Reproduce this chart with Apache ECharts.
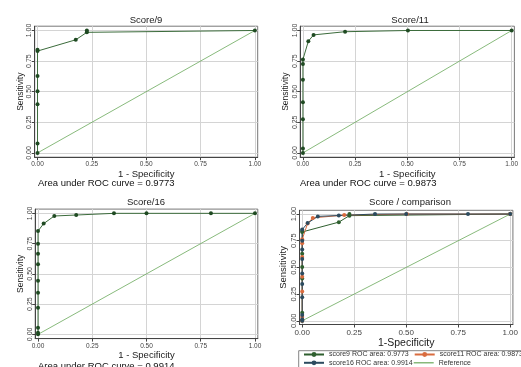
<!DOCTYPE html>
<html>
<head>
<meta charset="utf-8">
<script src="https://cdn.jsdelivr.net/npm/echarts@6/dist/echarts.min.js"></script>
<style>
  html, body { margin: 0; padding: 0; background: #fff; }
  #chart { width: 521px; height: 367px; }
</style>
</head>
<body>
<div id="chart"></div>
<script>
'use strict';

// ROC points (1 - specificity, sensitivity)
var score9X = [0, 0, 0, 0, 0, 0, 0, 0.176, 0.227, 0.227, 1];
var score9Y = [0, 0.076, 0.397, 0.503, 0.628, 0.832, 0.842, 0.924, 0.985, 1, 1];

var score11X = [0, 0, 0, 0, 0, 0, 0, 0.026, 0.051, 0.202, 0.503, 1];
var score11Y = [0, 0.036, 0.275, 0.413, 0.598, 0.727, 0.763, 0.912, 0.964, 0.99, 1, 1];

var score16X = [0, 0, 0, 0, 0, 0, 0, 0, 0, 0, 0.026, 0.075, 0.176, 0.35, 0.5, 0.797, 1];
var score16Y = [0, 0.014, 0.055, 0.22, 0.344, 0.444, 0.579, 0.667, 0.749, 0.854, 0.915, 0.978, 0.986, 1, 1, 1, 1];

var refX = [0, 1];
var refY = [0, 1];

var tickValues = [0, 0.25, 0.5, 0.75, 1];
var panelTitles = ['Score/9', 'Score/11', 'Score/16', 'Score / comparison'];
var aucLabels = ['Area under ROC curve = 0.9773', 'Area under ROC curve = 0.9873', 'Area under ROC curve = 0.9914'];
var legendNames = ['score9 ROC area: 0.9773', 'score11 ROC area: 0.9873', 'score16 ROC area: 0.9914', 'Reference'];

var FONT = 'Liberation Sans';
var rocColor = '#3b6b3b';
var rocMarker = '#1f4a22';
var refColor = '#6aa85a';
var col9 = '#2f5f2f', col11 = '#d96c3f', col16 = '#2c4b5f';

function pairs(xs, ys) {
  return xs.map(function(x, i) { return [x, ys[i]]; });
}

var grids = [
  { left: 34.7, top: 26.2, width: 223, height: 131 },
  { left: 300.2, top: 26.2, width: 221.6, height: 131 },
  { left: 35.2, top: 209.1, width: 222.6, height: 129.5 },
  { left: 299.5, top: 210.3, width: 222.6, height: 114.2 }
];

function fmt(v) { return v.toFixed(2); }

function xAxisFor(i, big) {
  return {
    type: 'value', gridIndex: i, min: -0.013, max: 1.013,
    name: big ? '1-Specificity' : '1 - Specificity',
    nameLocation: 'middle', nameGap: big ? 10 : 9,
    nameTextStyle: { fontFamily: FONT, fontSize: big ? 10.5 : 9.5, color: '#222' },
    axisLine: { onZero: false, lineStyle: { color: '#444', width: 1 } },
    axisTick: { show: true, length: 3, customValues: tickValues, lineStyle: { color: '#444' } },
    axisLabel: {
      customValues: tickValues, margin: 4,
      fontFamily: FONT, fontSize: big ? 8 : 6.5, color: '#444', formatter: fmt
    },
    splitLine: { show: true, lineStyle: { color: '#d4d4d4', width: 1 } }
  };
}

function yAxisFor(i, big) {
  return {
    type: 'value', gridIndex: i, min: -0.035, max: 1.035,
    name: 'Sensitivity',
    nameLocation: 'middle', nameGap: big ? 11 : 10,
    nameTextStyle: { fontFamily: FONT, fontSize: big ? 9.5 : 8.5, color: '#222' },
    axisLine: { onZero: false, lineStyle: { color: '#444', width: 1 } },
    axisTick: { show: true, length: 3, customValues: tickValues, lineStyle: { color: '#444' } },
    axisLabel: {
      customValues: tickValues, rotate: 90, margin: 2,
      fontFamily: FONT, fontSize: big ? 7.5 : 7, color: '#444', formatter: fmt
    },
    splitLine: { show: true, lineStyle: { color: '#d4d4d4', width: 1 } }
  };
}

function rocSeries(name, i, xs, ys, lineColor, markColor) {
  return {
    name: name, type: 'line', xAxisIndex: i, yAxisIndex: i,
    data: pairs(xs, ys), symbol: 'circle', symbolSize: 4,
    showSymbol: true, clip: false, animation: false,
    lineStyle: { color: lineColor, width: 1 },
    itemStyle: { color: markColor }
  };
}

function refSeries(i) {
  return {
    name: 'Reference', type: 'line', xAxisIndex: i, yAxisIndex: i,
    data: pairs(refX, refY), symbol: 'none', animation: false,
    lineStyle: { color: refColor, width: 0.8 },
    itemStyle: { color: refColor }
  };
}

var titleTops = [15, 15, 197.5, 197.5];
var titleCenters = [146, 410, 146, 410];
var titles = panelTitles.map(function(t, i) {
  return {
    text: t, left: titleCenters[i], top: titleTops[i], padding: 0,
    textAlign: 'center',
    textStyle: { fontFamily: FONT, fontSize: 9.5, fontWeight: 'normal', color: '#222' }
  };
});
var aucLeft = [38, 300, 38];
var aucTop = [178.5, 178.5, 361.5];
aucLabels.forEach(function(t, i) {
  titles.push({
    text: t, left: aucLeft[i], top: aucTop[i], padding: 0, textAlign: 'left',
    textStyle: { fontFamily: FONT, fontSize: 9.5, fontWeight: 'normal', color: '#111' }
  });
});

// one legend per entry so the 2x2 layout lines up like the original
var legendLeft = [303, 413.7, 303, 413.7];
var legendTop = [351, 351, 359.3, 359.3];
var legends = legendNames.map(function(n, i) {
  var isRef = n === 'Reference';
  return {
    data: [isRef ? { name: n, icon: 'rect' } : n],
    orient: 'horizontal', left: legendLeft[i], top: legendTop[i],
    padding: 0, itemWidth: 20, itemHeight: isRef ? 1.2 : 6, selectedMode: false,
    textStyle: { fontFamily: FONT, fontSize: 7, color: '#333' }
  };
});

var option = {
  backgroundColor: '#fff',
  animation: false,
  title: titles,
  grid: grids.map(function(g) {
    return Object.assign({ show: true, borderColor: '#777', borderWidth: 1, backgroundColor: 'transparent' }, g);
  }),
  xAxis: [xAxisFor(0, false), xAxisFor(1, false), xAxisFor(2, false), xAxisFor(3, true)],
  yAxis: [yAxisFor(0, false), yAxisFor(1, false), yAxisFor(2, false), yAxisFor(3, true)],
  legend: legends,
  graphic: [{
    type: 'rect', shape: { x: 298.7, y: 350.7, width: 240, height: 30 },
    style: { fill: 'none', stroke: '#666', lineWidth: 0.8 }, silent: true
  }],
  series: [
    refSeries(0),
    rocSeries('score9', 0, score9X, score9Y, rocColor, rocMarker),
    refSeries(1),
    rocSeries('score11', 1, score11X, score11Y, rocColor, rocMarker),
    refSeries(2),
    rocSeries('score16', 2, score16X, score16Y, rocColor, rocMarker),
    refSeries(3),
    rocSeries(legendNames[0], 3, score9X, score9Y, col9, col9),
    rocSeries(legendNames[1], 3, score11X, score11Y, col11, col11),
    rocSeries(legendNames[2], 3, score16X, score16Y, col16, col16)
  ]
};

var chart = echarts.init(document.getElementById('chart'), null, { renderer: 'canvas' });
chart.setOption(option);
</script>
</body>
</html>
